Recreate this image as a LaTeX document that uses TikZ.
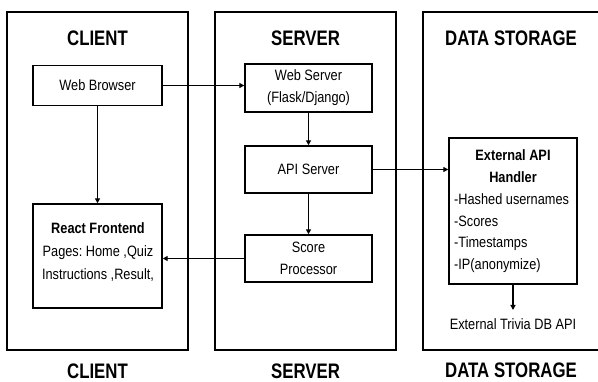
\documentclass[tikz,border=0pt]{standalone}
\usepackage{fontspec}
\setmainfont{Liberation Sans}
\newfontfamily\titlefont[FakeStretch=0.8]{Liberation Sans}
\newfontfamily\bodyfont[FakeStretch=0.85]{Liberation Sans}
\usetikzlibrary{arrows.meta}
\frenchspacing
\tikzset{
  region/.style={draw=black, line width=1.5pt},
  comp/.style={draw=black, line width=1.4pt, inner sep=0pt, align=center,
    font=\bodyfont\fontsize{15}{22}\selectfont},
  ttl/.style={font=\titlefont\bfseries\fontsize{21}{24}\selectfont, inner sep=0pt},
  plain/.style={font=\bodyfont\fontsize{15}{21.5}\selectfont, inner sep=0pt, align=left},
  flow/.style={line width=1.4pt, -{Triangle[length=5pt,width=5pt]}}
}
\begin{document}
\begin{tikzpicture}[x=1pt,y=-1pt]
\useasboundingbox (0,0) rectangle (598,382);
\fill[white] (0,0) rectangle (598,382);
% regions
\draw[region] (7,12) rectangle (188,350);
\draw[region] (215,12) rectangle (396,350);
\draw[region] (423,12) rectangle (600,350);
% titles
\node[ttl] (tc) at (97.5,38) {CLIENT};
\node[ttl] (ts) at (305.5,38) {SERVER};
\node[ttl] (td) at (511,38) {DATA STORAGE};
\node[ttl] (bc) at (97.5,371) {CLIENT};
\node[ttl] (bs) at (305.5,371) {SERVER};
\node[ttl] (bd) at (511,370) {DATA STORAGE};
% client
\node[comp, minimum width=129pt, minimum height=40pt] (wb) at (97.5,85.5) {Web Browser};
\node[comp, minimum width=129pt, minimum height=104pt] (rf) at (97.5,256) {};
\node[font=\bodyfont\fontsize{15}{23}\selectfont, align=center, inner sep=0pt] (rft) at (98,252.5)
  {{\bfseries React Frontend}\\Pages: Home ,Quiz\\Instructions ,Result,};
% server
\node[comp, minimum width=127pt, minimum height=48pt] (ws) at (308.5,88) {Web Server\\(Flask/Django)};
\node[comp, minimum width=127pt, minimum height=47pt] (api) at (308.5,169.5) {API Server};
\node[comp, minimum width=127pt, minimum height=47pt] (sp) at (308.5,258.5) {Score\\Processor};
% data storage
\node[draw=black, line width=1.4pt, minimum width=128pt, minimum height=146pt, inner sep=0pt] (h) at (513,211) {};
\node[font=\bodyfont\bfseries\fontsize{15}{22}\selectfont, align=center, inner sep=0pt] (ht) at (513,166.5) {External API\\Handler};
\node[plain, anchor=west] (hl) at (454,233) {-Hashed usernames\\-Scores\\-Timestamps\\-IP(anonymize)};
\node[plain] (tr) at (513,324) {External Trivia DB API};
\coordinate (trtop) at (513,310);
% connectors
\draw[flow] (wb.east) -- (wb.east -| ws.west);
\draw[flow] (wb.south) -- (rf.north);
\draw[flow] (ws.south) -- (api.north);
\draw[flow] (api.south) -- (sp.north);
\draw[flow] (api.east) -- (api.east -| h.west);
\draw[flow] (sp.west) -- (sp.west -| rf.east);
\draw[flow] (h.south) -- (trtop);
\end{tikzpicture}
\end{document}
